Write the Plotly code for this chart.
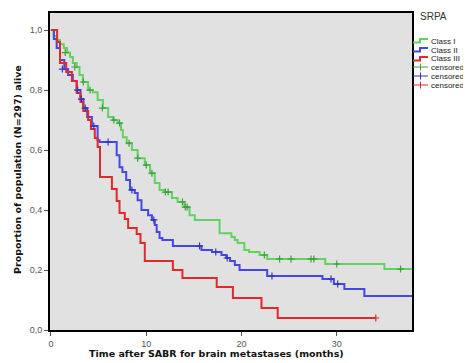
import plotly.graph_objects as go

# ---------------- data ----------------
green_t = [0, 0.3, 0.6, 0.95, 1.35, 1.7, 2.0, 2.3, 2.7, 3.0, 3.35, 3.9, 4.4, 4.9, 5.45, 6.0, 6.5, 7.0,
           7.35, 7.55, 7.95, 8.5, 9.1, 9.85, 10.4, 10.9, 11.4, 11.95, 12.7, 13.3, 14.0, 14.55, 15.1,
           17.7, 18.95, 19.3, 19.6, 20.3, 20.8, 21.9, 22.7, 28.8, 35.0, 37.9]
green_s = [1.0, 0.98, 0.967, 0.953, 0.94, 0.925, 0.91, 0.89, 0.877, 0.85, 0.827, 0.80, 0.793, 0.767,
           0.74, 0.71, 0.70, 0.69, 0.667, 0.643, 0.623, 0.60, 0.573, 0.55, 0.523, 0.49, 0.467, 0.46,
           0.44, 0.427, 0.41, 0.383, 0.367, 0.323, 0.31, 0.30, 0.29, 0.267, 0.26, 0.25, 0.237, 0.22,
           0.203, 0.203]
green_cens_t = [1.5, 2.5, 3.4, 4.1, 5.4, 6.6, 7.2, 8.2, 9.1, 10.0, 10.6, 12.0, 12.3, 13.8, 14.1, 14.3,
                22.4, 24.0, 25.2, 27.3, 27.6, 30.0, 36.7]
green_cens_s = [0.925, 0.877, 0.827, 0.80, 0.74, 0.70, 0.69, 0.623, 0.573, 0.55, 0.523, 0.46, 0.46,
                0.427, 0.41, 0.41, 0.25, 0.237, 0.237, 0.237, 0.237, 0.22, 0.203]

blue_t = [0, 0.3, 0.6, 0.95, 1.4, 1.8, 2.3, 2.7, 3.1, 3.4, 3.8, 4.3, 4.9, 5.1, 6.9, 7.2, 7.5, 7.9, 8.3,
          8.8, 9.1, 9.5, 10.2, 10.6, 10.9, 11.1, 11.4, 11.7, 12.8, 15.8, 16.9, 17.9, 18.4, 18.8, 19.3,
          19.8, 22.7, 28.5, 29.7, 30.8, 32.9, 37.9]
blue_s = [1.0, 0.97, 0.94, 0.90, 0.87, 0.85, 0.83, 0.80, 0.77, 0.74, 0.71, 0.68, 0.633, 0.627, 0.583,
          0.543, 0.527, 0.50, 0.467, 0.457, 0.433, 0.40, 0.383, 0.367, 0.35, 0.327, 0.307, 0.30, 0.28,
          0.267, 0.26, 0.25, 0.24, 0.23, 0.217, 0.20, 0.18, 0.17, 0.153, 0.137, 0.113, 0.113]
blue_cens_t = [1.2, 2.8, 3.2, 3.6, 4.5, 6.0, 8.5, 10.8, 15.6, 17.3, 18.5, 23.2, 29.4, 30.1]
blue_cens_s = [0.87, 0.80, 0.77, 0.74, 0.68, 0.627, 0.467, 0.367, 0.28, 0.26, 0.24, 0.18, 0.17, 0.153]

red_t = [0, 0.65, 0.95, 1.6, 2.2, 2.7, 3.1, 3.4, 3.9, 4.2, 4.6, 4.9, 5.15, 6.4, 6.9, 7.2, 7.75, 8.1,
         9.0, 9.4, 9.85, 12.8, 13.8, 17.4, 19.1, 22.1, 23.8, 34.1]
red_s = [1.0, 0.96, 0.89, 0.86, 0.83, 0.79, 0.76, 0.73, 0.70, 0.67, 0.64, 0.61, 0.51, 0.47, 0.43,
         0.39, 0.37, 0.34, 0.32, 0.29, 0.23, 0.20, 0.173, 0.143, 0.107, 0.073, 0.04, 0.04]
red_cens_t = [34.1]
red_cens_s = [0.04]

y_ticks = [0.0, 0.2, 0.4, 0.6, 0.8, 1.0]
y_tick_labels = ["0,0", "0,2", "0,4", "0,6", "0,8", "1,0"]
x_ticks = [0, 10, 20, 30]
x_tick_labels = ["0", "10", "20", "30"]

legend_labels = ["Class I", "Class II", "Class III", "censored", "censored", "censored"]

GREEN, BLUE, RED = "#62d162", "#4646e8", "#e02a2a"
GREEN_C, BLUE_C, RED_C = "#3c9e3c", "#3434c0", "#d03030"

# ---------------- layout geometry ----------------
# the page adds an 8px body margin, so the figure is drawn 8px smaller/shifted
OFF = 8
W, H = 471 - OFF, 363 - OFF
L, R, T, B = 50 - OFF, 59, 13 - OFF, 33
PW, PH = W - L - R, H - T - B


def px(x):
    """page pixel x -> paper coordinate"""
    return (x - OFF - L) / PW


def py(y):
    """page pixel y -> paper coordinate"""
    return (H - B - (y - OFF)) / PH


fig = go.Figure()
for t, s, col in [(green_t, green_s, GREEN), (blue_t, blue_s, BLUE), (red_t, red_s, RED)]:
    fig.add_trace(go.Scatter(x=t, y=s, mode="lines", line=dict(color=col, width=2, shape="hv"),
                             showlegend=False, hoverinfo="skip"))
for t, s, col in [(green_cens_t, green_cens_s, GREEN_C), (blue_cens_t, blue_cens_s, BLUE_C),
                  (red_cens_t, red_cens_s, RED_C)]:
    fig.add_trace(go.Scatter(x=t, y=s, mode="markers",
                             marker=dict(symbol="cross-thin", size=5, line=dict(color=col, width=1.2)),
                             showlegend=False, hoverinfo="skip"))

# ---------------- manual legend ----------------
shapes = []
annotations = []
annotations.append(dict(text="SRPA", xref="paper", yref="paper", x=px(433), y=py(16),
                        xanchor="center", yanchor="middle", showarrow=False,
                        font=dict(family="Liberation Sans, Arial", size=10, color="#333")))
item_y = [41, 50, 59, 67, 76, 85]
item_cols = [GREEN, BLUE, RED, GREEN_C, BLUE_C, RED_C]
for i, (lab, yy, col) in enumerate(zip(legend_labels, item_y, item_cols)):
    if i < 3:
        path = (f"M {px(413)} {py(yy + 1.5)} L {px(420)} {py(yy + 1.5)} L {px(420)} {py(yy - 2)} "
                f"L {px(428)} {py(yy - 2)}")
        shapes.append(dict(type="path", xref="paper", yref="paper", path=path,
                           line=dict(color=col, width=2)))
    else:
        shapes.append(dict(type="line", xref="paper", yref="paper", x0=px(413), x1=px(428),
                           y0=py(yy), y1=py(yy), line=dict(color=col, width=1)))
        shapes.append(dict(type="line", xref="paper", yref="paper", x0=px(420.5), x1=px(420.5),
                           y0=py(yy - 3.5), y1=py(yy + 3.5), line=dict(color=col, width=1)))
    annotations.append(dict(text=lab, xref="paper", yref="paper", x=px(429), y=py(yy),
                            xanchor="left", yanchor="middle", showarrow=False,
                            font=dict(family="Liberation Sans, Arial", size=8, color="#222")))

annotations.append(dict(text="<b>Time after SABR for brain metastases (months)</b>", xref="paper",
                        yref="paper", x=px(216), y=py(353), xanchor="center", yanchor="middle",
                        showarrow=False,
                        font=dict(family="DejaVu Sans", size=9.5, color="#111")))
annotations.append(dict(text="<b>Proportion of population (N=297) alive</b>", xref="paper",
                        yref="paper", x=px(17), y=py(170), xanchor="center", yanchor="middle",
                        showarrow=False, textangle=-90,
                        font=dict(family="DejaVu Sans", size=9.5, color="#111")))

fig.update_layout(
    width=W, height=H,
    margin=dict(l=L, r=R, t=T, b=B, autoexpand=False),
    paper_bgcolor="white", plot_bgcolor="#e1e1e1",
    showlegend=False,
    shapes=shapes, annotations=annotations,
    xaxis=dict(range=[-0.1, 37.9], tickvals=x_ticks, ticktext=x_tick_labels, showgrid=False,
               zeroline=False, showline=True, mirror=True, linecolor="black", linewidth=2,
               ticks="outside", ticklen=4, tickcolor="#555", tickwidth=1,
               tickfont=dict(family="Liberation Sans, Arial", size=9, color="#555")),
    yaxis=dict(range=[0, 1.057], tickvals=y_ticks, ticktext=y_tick_labels, showgrid=False,
               zeroline=False, showline=True, mirror=True, linecolor="black", linewidth=2,
               ticks="outside", ticklen=4, tickcolor="#555", tickwidth=1,
               tickfont=dict(family="Liberation Sans, Arial", size=9, color="#555")),
)

fig.write_html("out.html")
